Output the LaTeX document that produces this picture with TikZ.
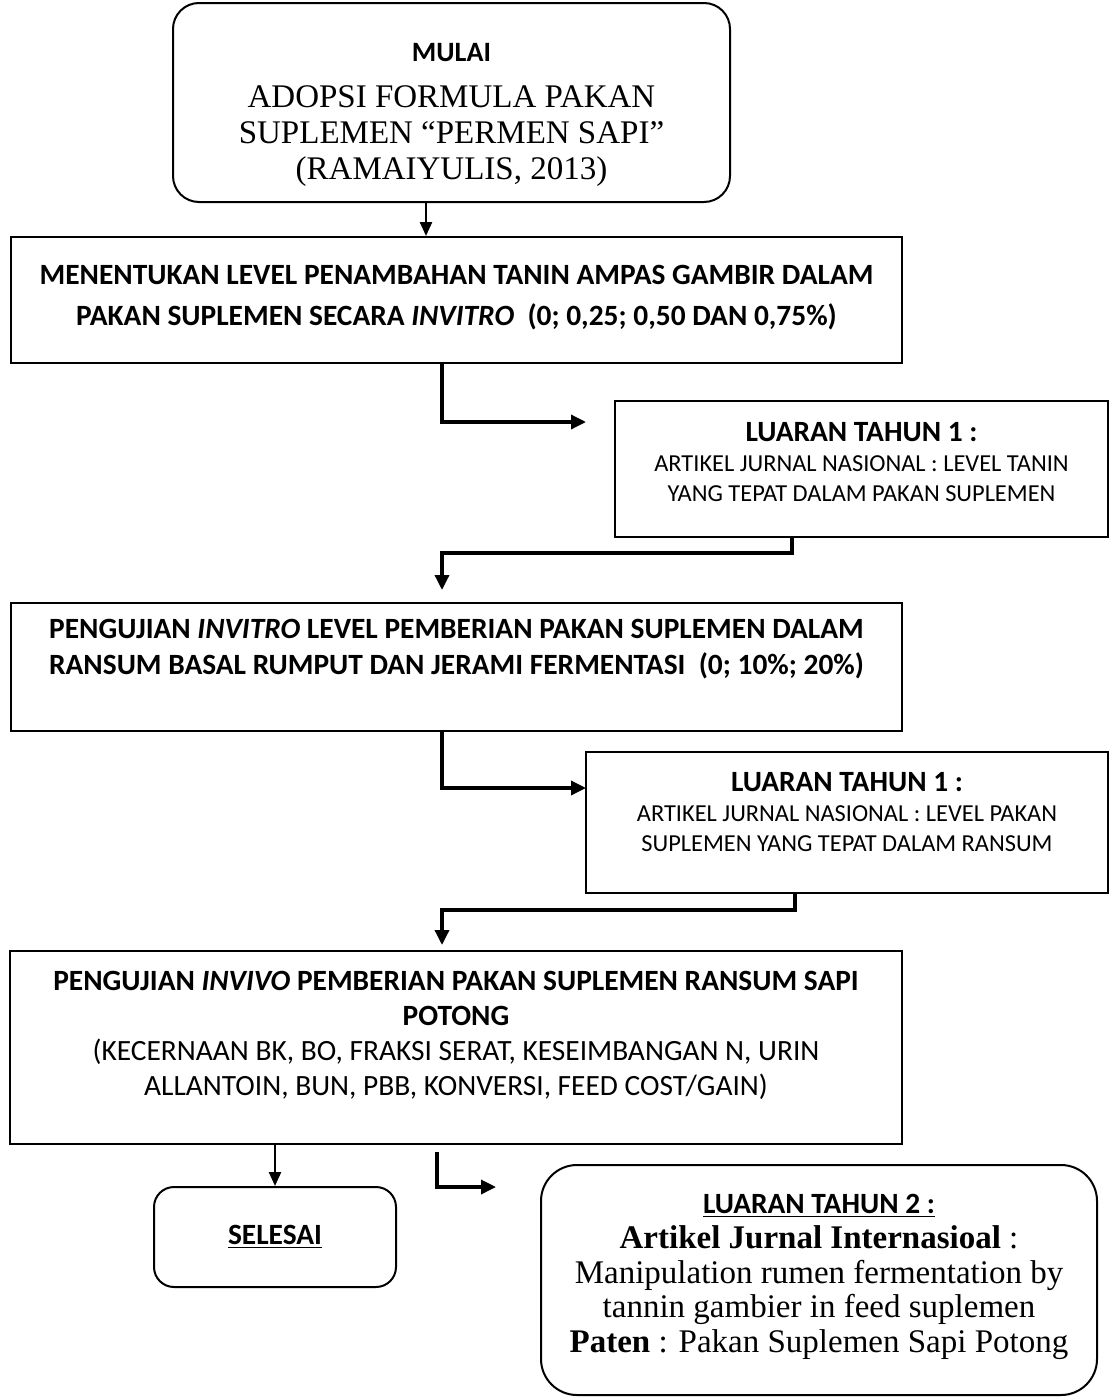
\documentclass[tikz,border=0pt]{standalone}
\usepackage{fontspec}
\setmainfont{Liberation Serif}
\newfontfamily\calibri{Carlito}
\usetikzlibrary{arrows.meta}

\begin{document}
\begin{tikzpicture}[x=0.5pt, y=-0.5pt,
  box/.style={draw, line width=1pt, inner sep=0pt},
  roundbox/.style={box, rounded corners=13pt},
  txt/.style={align=center, inner sep=0pt},
  judul/.style={txt, font=\calibri\bfseries\fontsize{14.7}{20.5}\selectfont},
  luaran/.style={txt, font=\calibri\fontsize{12.2}{15}\selectfont},
  arr/.style={line width=1.2pt, -{Triangle[length=7pt, width=6pt]}},
  elbow/.style={line width=1.7pt, -{Triangle[length=7.5pt, width=7pt]}}]
  \useasboundingbox (0,0) rectangle (1109,1397);

  % kotak
  \node[roundbox, minimum width=278.5pt, minimum height=99.5pt] (mulai) at (451.5,102.5) {};
  \node[box, minimum width=445.5pt, minimum height=63pt] (menentukan) at (456.5,300) {};
  \node[box, minimum width=246.5pt, minimum height=68pt] (luaran1) at (861.5,469) {};
  \node[box, minimum width=445.5pt, minimum height=64pt] (invitro) at (456.5,667) {};
  \node[box, minimum width=261pt, minimum height=70.5pt] (luaran2) at (847,822.5) {};
  \node[box, minimum width=446pt, minimum height=96.5pt] (invivo) at (456,1047.5) {};
  \node[roundbox, rounded corners=10pt, minimum width=121pt, minimum height=50pt] (selesai) at (275,1237) {};
  \node[roundbox, rounded corners=18pt, minimum width=278pt, minimum height=115pt] (luaran3) at (819,1280) {};

  % teks
  \node[txt, font=\fontsize{16.5}{18}\selectfont] (mulaiteks) at (451.5,115)
    {{\calibri\bfseries\fontsize{14}{15}\selectfont MULAI}\\[5pt]
     ADOPSI FORMULA PAKAN\\SUPLEMEN “PERMEN SAPI”\\(RAMAIYULIS, 2013)};
  \node[judul] (menentukanteks) at (456.5,298)
    {MENENTUKAN LEVEL PENAMBAHAN TANIN AMPAS GAMBIR DALAM\\
     PAKAN SUPLEMEN SECARA \textit{INVITRO}\ \ (0; 0,25; 0,50 DAN 0,75\%)};
  \node[luaran] (luaran1teks) at (861.5,462)
    {{\bfseries\fontsize{14.7}{15}\selectfont LUARAN TAHUN 1 :}\\
     ARTIKEL JURNAL NASIONAL : LEVEL TANIN\\YANG TEPAT DALAM PAKAN SUPLEMEN};
  \node[judul, font=\calibri\bfseries\fontsize{14.7}{18}\selectfont] (invitroteks) at (456.5,649)
    {PENGUJIAN \textit{INVITRO} LEVEL PEMBERIAN PAKAN SUPLEMEN DALAM\\
     RANSUM BASAL RUMPUT DAN JERAMI FERMENTASI\ \ (0; 10\%; 20\%)};
  \node[luaran] (luaran2teks) at (847,812)
    {{\bfseries\fontsize{14.7}{15}\selectfont LUARAN TAHUN 1 :}\\
     ARTIKEL JURNAL NASIONAL : LEVEL PAKAN\\SUPLEMEN YANG TEPAT DALAM RANSUM};
  \node[judul, font=\calibri\fontsize{14.7}{17.5}\selectfont] (invivoteks) at (456,1035)
    {\textbf{PENGUJIAN \textit{INVIVO} PEMBERIAN PAKAN SUPLEMEN RANSUM SAPI}\\
     \textbf{POTONG}\\
     (KECERNAAN BK, BO, FRAKSI SERAT, KESEIMBANGAN N, URIN\\
     ALLANTOIN, BUN, PBB, KONVERSI, FEED COST/GAIN)};
  \node[judul] (selesaiteks) at (275,1237) {\underline{SELESAI}};
  \node[txt, font=\fontsize{16.5}{17.4}\selectfont] (luaran3teks) at (819,1277)
    {{\calibri\bfseries\fontsize{14.7}{15}\selectfont\underline{LUARAN TAHUN 2 :}}\\
     \textbf{Artikel Jurnal Internasioal} :\\
     Manipulation rumen fermentation by\\
     tannin gambier in feed suplemen\\
     \textbf{Paten} : Pakan Suplemen Sapi Potong};

  % titik bantu
  \coordinate (keluaran1) at (586,422);
  \coordinate (tekuk1) at (792,553);
  \coordinate (masuk1) at (442,590);
  \coordinate (keluaran2) at (586,788);
  \coordinate (tekuk2) at (795,910);
  \coordinate (masuk2) at (442,945);
  \coordinate (awal3) at (437,1152);
  \coordinate (keluaran3) at (496,1187);

  % panah
  \draw[arr] (mulai.south -| 426,0) -- (menentukan.north -| 426,0);
  \draw[elbow] (menentukan.south -| 442,0) |- (keluaran1);
  \draw[elbow] (luaran1.south -| tekuk1) -- (tekuk1) -| (masuk1);
  \draw[elbow] (invitro.south -| 442,0) |- (keluaran2);
  \draw[elbow] (luaran2.south -| tekuk2) -- (tekuk2) -| (masuk2);
  \draw[arr] (invivo.south -| selesai.north) -- (selesai.north);
  \draw[elbow] (awal3) |- (keluaran3);
\end{tikzpicture}
\end{document}
